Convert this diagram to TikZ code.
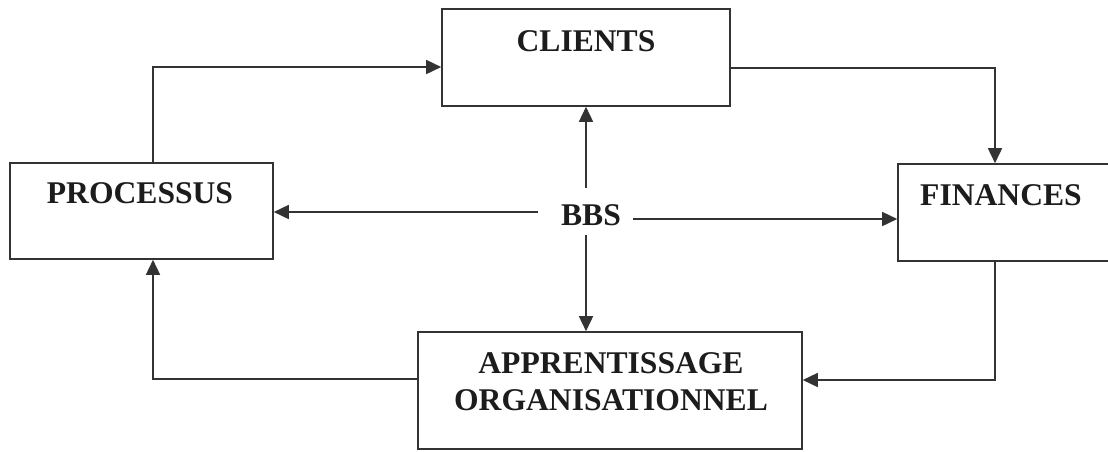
\documentclass[tikz,border=0pt]{standalone}
\usepackage{fontspec}
\setmainfont{Liberation Serif}
\usetikzlibrary{arrows.meta}
\definecolor{ink}{HTML}{1C1C1C}
\definecolor{wire}{HTML}{333333}
\begin{document}
\begin{tikzpicture}[x=1pt,y=-1pt,
  box/.style={draw=wire, line width=1.6pt, rectangle, inner sep=0pt, fill=white},
  lbl/.style={text=ink, font=\fontsize{31.6}{37}\selectfont\bfseries, inner sep=0pt, anchor=base, align=center},
  conn/.style={draw=wire, line width=1.6pt},
  arr/.style={conn, -{Triangle[length=15pt,width=14pt]}}]
  \fill[white] (0,0) rectangle (1108,451);
  \useasboundingbox (0,0) rectangle (1108,451);
  \clip (0,0) rectangle (1108,451);

  % boxes
  \node[box, minimum width=288pt, minimum height=97pt] (clients) at (586,57.5) {};
  \node[box, minimum width=263pt, minimum height=96pt] (proc) at (141.5,211) {};
  \node[box, minimum width=220pt, minimum height=97pt] (fin) at (1008,212.5) {};
  \node[box, minimum width=384pt, minimum height=117pt] (appr) at (610,390.5) {};

  % labels (the two-line label sits on the baseline of its last line)
  \node[lbl] (clientsT) at (586,51) {CLIENTS};
  \node[lbl] (procT) at (140,203) {PROCESSUS};
  \node[lbl] (finT) at (1001,205) {FINANCES};
  \node[lbl] (apprT) at (611,410) {APPRENTISSAGE\\ORGANISATIONNEL};
  \node[lbl] (bbs) at (591,225) {BBS};

  % arrows out of BBS
  \coordinate (bbsUp) at (586,188);
  \coordinate (bbsDown) at (586,235);
  \coordinate (bbsL) at (538,212);
  \coordinate (bbsR) at (633,219);
  \draw[arr] (bbsUp) -- (bbsUp |- clients.south);
  \draw[arr] (bbsDown) -- (bbsDown |- appr.north);
  \draw[arr] (bbsL) -- (bbsL -| proc.east);
  \draw[arr] (bbsR) -- (bbsR -| fin.west);

  % outer loop
  \coordinate (c1) at (153,67);
  \coordinate (c2) at (995,68);
  \coordinate (c3) at (995,380);
  \coordinate (c4) at (153,379);
  \draw[arr] (c1 |- proc.north) -- (c1) -- (c1 -| clients.west);
  \draw[arr] (c2 -| clients.east) -- (c2) -- (c2 |- fin.north);
  \draw[arr] (c3 |- fin.south) -- (c3) -- (c3 -| appr.east);
  \draw[arr] (c4 -| appr.west) -- (c4) -- (c4 |- proc.south);
\end{tikzpicture}
\end{document}
